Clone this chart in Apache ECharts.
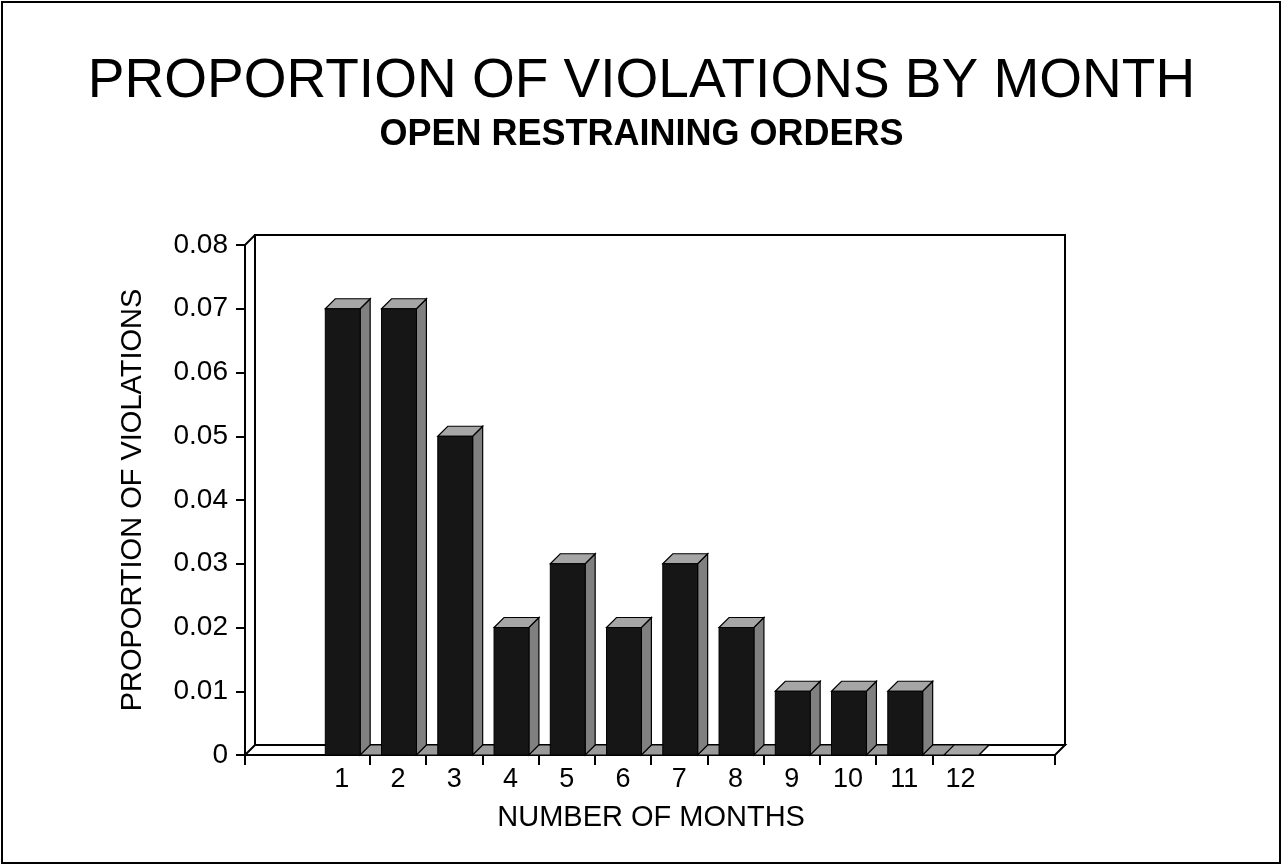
<!DOCTYPE html>
<html>
<head>
<meta charset="utf-8">
<script src="https://cdn.jsdelivr.net/npm/echarts@6/dist/echarts.min.js"></script>
<style>
html,body{margin:0;padding:0;background:#fff;}
#chart{width:1283px;height:865px;}
</style>
</head>
<body>
<div id="chart"></div>
<script>
const titleText = 'PROPORTION OF VIOLATIONS BY MONTH';
const subtitleText = 'OPEN RESTRAINING ORDERS';
const xAxisName = 'NUMBER OF MONTHS';
const yAxisName = 'PROPORTION OF VIOLATIONS';
const months = ['1','2','3','4','5','6','7','8','9','10','11','12'];
const violations = [0.07, 0.07, 0.05, 0.02, 0.03, 0.02, 0.03, 0.02, 0.01, 0.01, 0.01, 0];
const innerTickCats = ['2','3','4','5','6','7','8','9','10','11'];
const yMin = 0, yMax = 0.08, yStep = 0.01;

const FONT = 'Liberation Sans, Arial, sans-serif';
const DX = 10, DY = -10;

const chart = echarts.init(document.getElementById('chart'), null, {renderer: 'canvas'});

const option = {
  backgroundColor: '#fff',
  animation: false,
  title: [
    {text: titleText, left: 'center', top: 54, padding: 0,
     textStyle: {fontFamily: FONT, fontSize: 55, fontWeight: 'normal', color: '#000'}},
    {text: subtitleText, left: 'center', top: 117, padding: 0,
     textStyle: {fontFamily: FONT, fontSize: 36, fontWeight: 'bold', color: '#000'}}
  ],
  grid: [
    {left: 245, right: 228, top: 245, bottom: 110},
    {left: 255, right: 218, top: 235, bottom: 120, show: true, borderColor: '#000', borderWidth: 2, backgroundColor: 'transparent'},
    {left: 313.6, right: 294.4, top: 245, bottom: 110},
    {left: 369.9, right: 350.6, top: 245, bottom: 110},
    {left: 2, right: 3, top: 2, bottom: 2, show: true, borderColor: '#000', borderWidth: 2, backgroundColor: 'transparent'}
  ],
  xAxis: [
    {gridIndex: 0, type: 'value', min: 0, max: 1, interval: 1,
     axisLine: {show: true, lineStyle: {color: '#000', width: 2}},
     axisTick: {show: true, length: 10, lineStyle: {color: '#000', width: 2}},
     axisLabel: {show: false}, splitLine: {show: false}},
    {gridIndex: 1, type: 'value', min: 0, max: 1, show: false},
    {gridIndex: 2, type: 'category', data: months, boundaryGap: true,
     axisLine: {show: false}, axisTick: {show: false},
     axisLabel: {show: true, margin: 11, color: '#000', fontFamily: FONT, fontSize: 27, interval: 0},
     name: xAxisName, nameLocation: 'middle', nameGap: 48,
     nameTextStyle: {fontFamily: FONT, fontSize: 29, color: '#000'}},
    {gridIndex: 3, type: 'category', data: innerTickCats, boundaryGap: true,
     axisLine: {show: false},
     axisTick: {show: true, length: 10, lineStyle: {color: '#000', width: 2}},
     axisLabel: {show: false}}
  ],
  yAxis: [
    {gridIndex: 0, type: 'value', min: yMin, max: yMax, interval: yStep,
     axisLine: {show: true, lineStyle: {color: '#000', width: 2}},
     axisTick: {show: true, length: 9, lineStyle: {color: '#000', width: 2}},
     axisLabel: {show: true, margin: 17, color: '#000', fontFamily: FONT, fontSize: 28,
       formatter: v => v === 0 ? '0' : v.toFixed(2)},
     splitLine: {show: false},
     name: yAxisName, nameLocation: 'middle', nameGap: 98, nameRotate: 90,
     nameTextStyle: {fontFamily: FONT, fontSize: 29, color: '#000'}},
    {gridIndex: 1, type: 'value', min: yMin, max: yMax, show: false},
    {gridIndex: 2, type: 'value', min: yMin, max: yMax, show: false},
    {gridIndex: 3, type: 'value', min: yMin, max: yMax, show: false}
  ],
  series: [
    {
      type: 'custom', xAxisIndex: 0, yAxisIndex: 0, z: 1, silent: true,
      data: [[0, 0]],
      renderItem: function (params, api) {
        const a = api.coord([0, yMin]);
        const b = api.coord([1, yMin]);
        const t = api.coord([0, yMax]);
        return {type: 'group', children: [
          {type: 'polygon', shape: {points: [a, b, [b[0] + DX, b[1] + DY], [a[0] + DX, a[1] + DY]]},
           style: {fill: '#fff', stroke: '#000', lineWidth: 2}},
          {type: 'line', shape: {x1: t[0], y1: t[1], x2: t[0] + DX, y2: t[1] + DY},
           style: {stroke: '#000', lineWidth: 2}}
        ]};
      }
    },
    {
      type: 'custom', xAxisIndex: 2, yAxisIndex: 2, z: 3, silent: true,
      data: violations.map((v, i) => [i, v]),
      renderItem: function (params, api) {
        const i = api.value(0);
        const v = api.value(1);
        const base = api.coord([i, 0]);
        const top = api.coord([i, v]);
        const band = api.size([1, 0])[0];
        const w = band * 0.62;
        const x0 = base[0] - w / 2 + 1;
        const x1 = x0 + w;
        const gap = band - w;
        const children = [];
        if (i < violations.length - 1) {
          children.push({type: 'polygon',
            shape: {points: [[x1, base[1]], [x1 + gap, base[1]], [x1 + gap + DX, base[1] + DY], [x1 + DX, base[1] + DY]]},
            style: {fill: '#9a9a9a', stroke: '#000', lineWidth: 1}});
        }
        children.push({type: 'polygon',
          shape: {points: [[x1, base[1]], [x1, top[1]], [x1 + DX, top[1] + DY], [x1 + DX, base[1] + DY]]},
          style: {fill: '#808080', stroke: '#000', lineWidth: 1.2}});
        children.push({type: 'polygon',
          shape: {points: [[x0, top[1]], [x1, top[1]], [x1 + DX, top[1] + DY], [x0 + DX, top[1] + DY]]},
          style: {fill: '#a6a6a6', stroke: '#000', lineWidth: 1.2}});
        if (base[1] - top[1] > 0) {
          children.push({type: 'rect',
            shape: {x: x0, y: top[1], width: w, height: base[1] - top[1]},
            style: {fill: '#161616', stroke: '#000', lineWidth: 1}});
        }
        return {type: 'group', children: children};
      }
    }
  ]
};
chart.setOption(option);
</script>
</body>
</html>
